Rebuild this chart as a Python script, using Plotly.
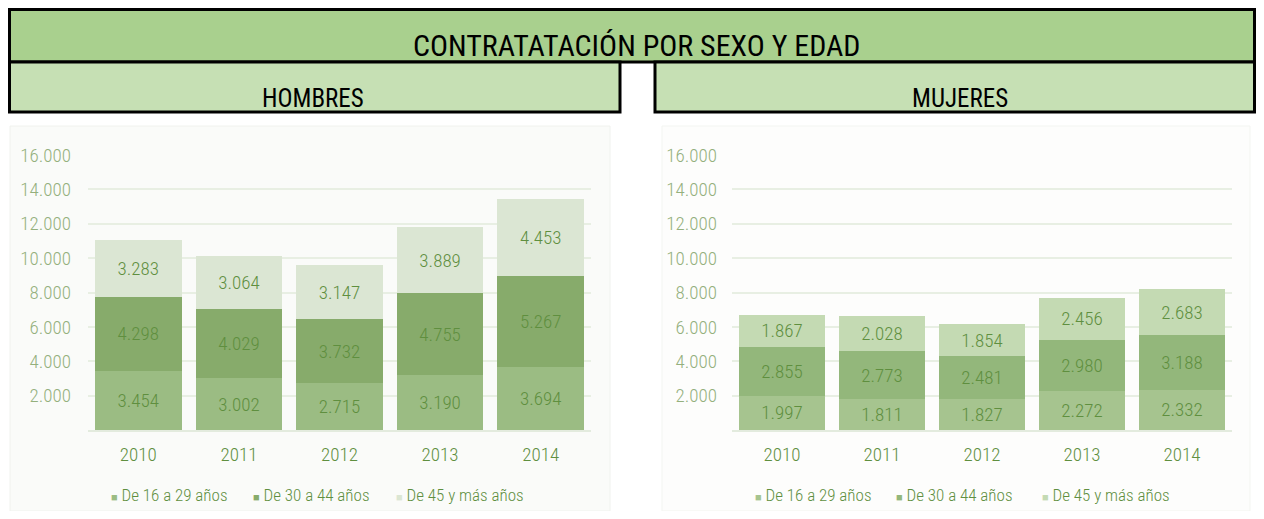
import plotly.graph_objects as go

years = ["2010", "2011", "2012", "2013", "2014"]
series_names = ["De 16 a 29 años", "De 30 a 44 años", "De 45 y más años"]

hombres_16_29 = [3454, 3002, 2715, 3190, 3694]
hombres_30_44 = [4298, 4029, 3732, 4755, 5267]
hombres_45 = [3283, 3064, 3147, 3889, 4453]

mujeres_16_29 = [1997, 1811, 1827, 2272, 2332]
mujeres_30_44 = [2855, 2773, 2481, 2980, 3188]
mujeres_45 = [1867, 2028, 1854, 2456, 2683]

tick_vals = [2000, 4000, 6000, 8000, 10000, 12000, 14000, 16000]

title_text = "CONTRATATACIÓN POR SEXO Y EDAD"
panel_titles = ["HOMBRES", "MUJERES"]

OX, OY = 8, 8  # page offset of the plot div inside the browser window
W, H = 1264 - 2 * OX, 519 - 2 * OY


def px(x):
    return (x - OX) / W


def py(y):
    return 1 - (y - OY) / H


FONT = "Roboto Condensed, Liberation Sans Narrow, Arial Narrow, sans-serif"
LABEL_COLOR = "#5f8f3f"
TICK_COLOR = "#94b07d"

colors_left = ["#9bbc83", "#87ab6b", "#dbe6d3"]
colors_right = ["#a6c48f", "#93b77b", "#c4dab3"]

fig = go.Figure()


def add_group(vals_list, colors, xaxis, yaxis):
    for name, vals, col in zip(series_names, vals_list, colors):
        fig.add_trace(go.Bar(
            x=years, y=vals, name=name,
            marker=dict(color=col, line=dict(width=0)),
            text=vals, texttemplate="%{y:,}",
            textposition="inside", insidetextanchor="middle", textangle=0,
            textfont=dict(family=FONT, size=19, color=LABEL_COLOR, weight=300),
            xaxis=xaxis, yaxis=yaxis, showlegend=False,
            hoverinfo="skip",
        ))


add_group([hombres_16_29, hombres_30_44, hombres_45], colors_left, "x", "y")
add_group([mujeres_16_29, mujeres_30_44, mujeres_45], colors_right, "x2", "y2")

ydom = [py(430), py(155)]
tickfont_y = dict(family=FONT, size=19, color=TICK_COLOR, weight=300)
tickfont_x = dict(family=FONT, size=19, color=LABEL_COLOR, weight=300)
fig.update_layout(
    width=W, height=H,
    margin=dict(l=0, r=0, t=0, b=0, autoexpand=False),
    paper_bgcolor="white", plot_bgcolor="rgba(0,0,0,0)",
    barmode="stack", bargap=0.14,
    separators=",.",
    font=dict(family=FONT, color=LABEL_COLOR),
    uniformtext=dict(minsize=18, mode="show"),
    showlegend=False,
    xaxis=dict(domain=[px(88), px(591)], anchor="y", showgrid=False, showline=True,
               linecolor="#e3ebde", linewidth=2, ticks="", ticklabelstandoff=6,
               tickfont=tickfont_x),
    yaxis=dict(domain=ydom, anchor="x", range=[0, 16000], tickvals=tick_vals,
               tickformat=",", showgrid=True, gridcolor="#e8efe3", gridwidth=2,
               zeroline=False, ticks="", ticklabelstandoff=16, tickfont=tickfont_y),
    xaxis2=dict(domain=[px(732), px(1232)], anchor="y2", showgrid=False, showline=True,
                linecolor="#e3ebde", linewidth=2, ticks="", ticklabelstandoff=6,
                tickfont=tickfont_x),
    yaxis2=dict(domain=ydom, anchor="x2", range=[0, 16000], tickvals=tick_vals,
                tickformat=",", showgrid=True, gridcolor="#e8efe3", gridwidth=2,
                zeroline=False, ticks="", ticklabelstandoff=14, tickfont=tickfont_y),
)

right_edge = 1 - 1.5 / W
shapes = [
    dict(type="rect", xref="paper", yref="paper", x0=px(10), x1=px(610), y0=0, y1=py(126),
         fillcolor="#fafbf9", line=dict(color="#f0f2ee", width=1), layer="below"),
    dict(type="rect", xref="paper", yref="paper", x0=px(662), x1=px(1250), y0=0, y1=py(126),
         fillcolor="#fdfdfc", line=dict(color="#f3f5f1", width=1), layer="below"),
    dict(type="rect", xref="paper", yref="paper", x0=max(px(6), 1.5 / W),
         x1=min(px(1262), right_edge),
         y0=py(62), y1=min(py(6), 1 - 1.5 / H),
         fillcolor="#a9d08e", line=dict(color="black", width=3)),
    dict(type="rect", xref="paper", yref="paper", x0=max(px(6), 1.5 / W), x1=px(620),
         y0=py(112), y1=py(62),
         fillcolor="#c6e0b4", line=dict(color="black", width=3)),
    dict(type="rect", xref="paper", yref="paper", x0=px(655), x1=min(px(1262), right_edge),
         y0=py(112), y1=py(62),
         fillcolor="#c6e0b4", line=dict(color="black", width=3)),
]
fig.update_layout(shapes=shapes)

fig.add_annotation(text=title_text, xref="paper", yref="paper", x=px(636), y=py(46),
                   xanchor="center", yanchor="middle",
                   showarrow=False, font=dict(family=FONT, size=30, color="black"))
fig.add_annotation(text=panel_titles[0], xref="paper", yref="paper", x=px(313), y=py(98),
                   xanchor="center", yanchor="middle",
                   showarrow=False, font=dict(family=FONT, size=25, color="black"))
fig.add_annotation(text=panel_titles[1], xref="paper", yref="paper", x=px(960), y=py(98),
                   xanchor="center", yanchor="middle",
                   showarrow=False, font=dict(family=FONT, size=25, color="black"))

# legends (one per panel), colour keys drawn as text glyphs
legend_x_left = [109, 251, 394]
legend_x_right = [753, 894, 1040]
for xs, cols in ((legend_x_left, colors_left), (legend_x_right, colors_right)):
    for xpos, name, col in zip(xs, series_names, cols):
        fig.add_annotation(
            text=f"<span style='color:{col};font-size:11px'>■</span> {name}",
            xref="paper", yref="paper", x=px(xpos), y=py(495), xanchor="left",
            yanchor="middle", showarrow=False,
            font=dict(family=FONT, size=17, color=LABEL_COLOR, weight=300))

fig.write_html("out.html")
